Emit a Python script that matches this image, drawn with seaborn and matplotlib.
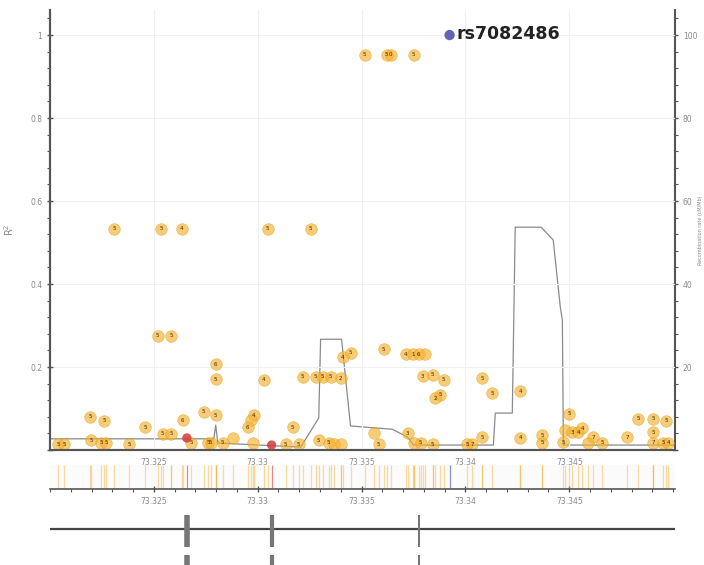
import matplotlib
matplotlib.use("Agg")
import matplotlib.pyplot as plt
import seaborn as sns
import pandas as pd
from matplotlib.ticker import MultipleLocator, FixedLocator, FuncFormatter

# SNP positions (Mb), LD r^2 with lead SNP, and the number printed in each circle
snp_pos = [73.33515, 73.33621, 73.3364, 73.33751,
           73.32308, 73.32534, 73.32635, 73.33048, 73.33255,
           73.32519, 73.32582,
           73.32192, 73.3226, 73.32457, 73.32543, 73.32582, 73.32639, 73.3274,
           73.32197, 73.32245, 73.32269, 73.3238, 73.32038, 73.32067, 73.32678, 73.3276,
           73.32798, 73.32798, 73.33029, 73.32798, 73.32981, 73.32967, 73.32952, 73.33168,
           73.32774, 73.32832, 73.3288, 73.32976, 73.33135, 73.33197, 73.33294, 73.33342,
           73.33366, 73.33399,
           73.33217, 73.33279, 73.33313, 73.33351, 73.33399, 73.33409, 73.33447,
           73.33606, 73.33712, 73.33746, 73.33775, 73.33808,
           73.33794, 73.33842, 73.33895, 73.3388, 73.33856, 73.34082, 73.3413, 73.34265,
           73.33558, 73.33722, 73.33582, 73.33751, 73.33784, 73.33842, 73.3401, 73.34034,
           73.34082, 73.34265,
           73.345, 73.34371, 73.34371, 73.34472, 73.34482, 73.34515, 73.34544, 73.34563,
           73.34616, 73.34592, 73.34659, 73.3478, 73.34833, 73.34905, 73.34967, 73.34905,
           73.34905, 73.34953, 73.34976]
snp_r2 = [0.952, 0.952, 0.952, 0.952,
          0.533, 0.533, 0.533, 0.533, 0.533,
          0.275, 0.275,
          0.080, 0.070, 0.055, 0.039, 0.039, 0.072, 0.092,
          0.024, 0.017, 0.017, 0.014, 0.014, 0.014, 0.017, 0.017,
          0.207, 0.171, 0.169, 0.084, 0.084, 0.072, 0.055, 0.055,
          0.017, 0.017, 0.029, 0.017, 0.014, 0.014, 0.024, 0.017,
          0.014, 0.014,
          0.176, 0.176, 0.176, 0.176, 0.173, 0.224, 0.234,
          0.243, 0.231, 0.231, 0.231, 0.231,
          0.178, 0.181, 0.169, 0.133, 0.125, 0.173, 0.137, 0.142,
          0.041, 0.041, 0.014, 0.017, 0.017, 0.014, 0.014, 0.014,
          0.031, 0.029,
          0.087, 0.036, 0.017, 0.019, 0.048, 0.043, 0.043, 0.053,
          0.031, 0.017, 0.017, 0.031, 0.075, 0.075, 0.070, 0.043,
          0.017, 0.017, 0.017]
snp_text = ["5", "5", "0", "5",
            "5", "5", "4", "5", "5",
            "5", "5",
            "5", "5", "5", "5", "5", "6", "5",
            "5", "5", "5", "5", "5", "5", "5", "5",
            "6", "5", "4", "5", "4", "", "6", "5",
            "5", "5", "", "", "5", "5", "5", "5",
            "", "",
            "5", "5", "5", "5", "2", "4", "5",
            "5", "4", "1", "6", "",
            "3", "5", "5", "5", "2", "5", "5", "4",
            "", "3", "5", "", "5", "5", "5", "7",
            "5", "4",
            "5", "5", "5", "5", "", "3", "4", "4",
            "7", "", "5", "7", "5", "5", "5", "5",
            "7", "5", "4"]

# highlighted SNPs
red_pos = [73.32659, 73.33067]
red_r2 = [0.029, 0.012]
lead_pos = 73.33924
lead_r2 = 1.0
lead_name = "rs7082486"

# recombination rate (cM/Mb)
rec_pos = [73.3200, 73.32789, 73.32798, 73.32808, 73.33207, 73.33294, 73.33303,
           73.33404, 73.33447, 73.33649, 73.33722, 73.33751, 73.34135, 73.34144,
           73.34226, 73.3424, 73.34365, 73.34423, 73.34457, 73.34467, 73.34472, 73.3501]
rec_rate = [2.7, 2.7, 6.0, 1.7, 0.7, 7.7, 26.7,
            26.7, 5.8, 5.0, 3.1, 1.2, 1.2, 8.9,
            8.9, 53.7, 53.7, 50.6, 34.5, 31.3, 1.2, 1.2]

# gene track exons
exon_pos = [73.32659, 73.33067, 73.33779]
exon_width = [4, 3, 1.5]

x_ticks = [73.325, 73.33, 73.335, 73.34, 73.345]

snps = pd.DataFrame({"pos": snp_pos, "r2": snp_r2, "txt": snp_text})
rec = pd.DataFrame({"pos": rec_pos, "rate": rec_rate})

sns.set_style("white")
fig = plt.figure(figsize=(7.04, 5.65), dpi=100)

xlim = (73.3200, 73.3501)
orange = "#f5b02e"
grey_txt = "#8a8a8a"
axis_col = "#555555"
xfmt = FuncFormatter(lambda v, _: f"{v:.3f}".rstrip("0"))

# main panel
ax = fig.add_axes([0.071, 0.2035, 0.888, 0.7785])
ax.grid(True, color="#f0f0f0", linewidth=0.8)
ax.set_axisbelow(True)
ax2 = ax.twinx()
sns.lineplot(data=rec, x="pos", y="rate", ax=ax2, color="#8a8a8a", linewidth=0.9,
             sort=False, estimator=None)
ax2.set_ylim(0, 106)
ax2.set_ylabel("Recombination rate (cM/Mb)", fontsize=3.5, color=grey_txt)
ax2.yaxis.set_label_coords(1.036, 0.5)

ax.set_zorder(ax2.get_zorder() + 1)
ax.patch.set_visible(False)
sns.scatterplot(data=snps, x="pos", y="r2", ax=ax, s=70, color=orange, alpha=0.65,
                edgecolor="#e59a10", linewidth=0.4, legend=False)
for p, r, t in zip(snp_pos, snp_r2, snp_text):
    if t:
        ax.text(p, r, t, fontsize=4, ha="center", va="center", color="#3a2a00")
ax.scatter(red_pos, red_r2, s=45, color="#d43a3a", alpha=0.85, edgecolor="none", zorder=3)
ax.scatter([lead_pos], [lead_r2], s=55, color="#6464b4", edgecolor="none", zorder=3)
ax.annotate(lead_name, (lead_pos, lead_r2), xytext=(5, 1), textcoords="offset points",
            fontsize=12.5, fontweight="bold", color="#222222", va="center")

ax.set_xlim(*xlim)
ax.set_ylim(0, 1.06)
ax.set_xlabel("")
ax.set_ylabel("R$^2$", fontsize=7, color=grey_txt, labelpad=10)
ax.xaxis.set_major_locator(FixedLocator(x_ticks))
ax.xaxis.set_minor_locator(MultipleLocator(0.001))
ax.yaxis.set_major_locator(MultipleLocator(0.2))
ax.yaxis.set_minor_locator(MultipleLocator(0.04))
ax2.yaxis.set_major_locator(MultipleLocator(20))
ax2.yaxis.set_minor_locator(MultipleLocator(4))
ax.xaxis.set_major_formatter(xfmt)
ax.yaxis.set_major_formatter(FuncFormatter(lambda v, _: "" if v == 0 else f"{v:g}"))
ax2.yaxis.set_major_formatter(FuncFormatter(lambda v, _: "" if v == 0 else f"{v:g}"))
for a in (ax, ax2):
    a.tick_params(which="major", direction="inout", length=5, width=1, color=axis_col,
                  labelsize=5.5, labelcolor=grey_txt, pad=3)
    a.tick_params(which="minor", direction="out", length=2.5, width=0.8, color=axis_col)
    for s in ("left", "right", "bottom"):
        a.spines[s].set_color(axis_col)
        a.spines[s].set_linewidth(1.5)
    a.spines["top"].set_visible(False)
ax.tick_params(axis="y", left=True, right=False)
ax2.tick_params(axis="y", right=True, left=False)
ax.spines["right"].set_visible(False)

# SNP position strip
axs = fig.add_axes([0.071, 0.1345, 0.888, 0.042])
axs.vlines(snp_pos, 0.05, 1, color=orange, alpha=0.45, linewidth=0.9)
axs.vlines(red_pos, 0.05, 1, color="#d43a3a", alpha=0.6, linewidth=0.9)
axs.vlines([lead_pos], 0.05, 1, color="#6464b4", alpha=0.7, linewidth=0.9)
axs.set_xlim(*xlim)
axs.set_ylim(0, 1)
axs.set_yticks([])
axs.xaxis.set_major_locator(FixedLocator(x_ticks))
axs.xaxis.set_minor_locator(MultipleLocator(0.001))
axs.xaxis.set_major_formatter(xfmt)
axs.tick_params(which="major", direction="inout", length=5, width=1, color=axis_col,
                labelsize=5.5, labelcolor=grey_txt, pad=3, bottom=True)
axs.tick_params(which="minor", direction="out", length=2.5, width=0.8, color=axis_col,
                bottom=True)
for s in ("left", "right", "top"):
    axs.spines[s].set_visible(False)
axs.spines["bottom"].set_color(axis_col)
axs.spines["bottom"].set_linewidth(1.2)
axs.patch.set_facecolor("#fbfbfb")

# gene track
axg = fig.add_axes([0.071, 0.0, 0.888, 0.106])
axg.set_xlim(*xlim)
axg.set_ylim(0, 60)
axg.hlines(36, xlim[0], xlim[1], color="#444444", linewidth=1.6)
for p, w in zip(exon_pos, exon_width):
    axg.vlines(p, 18, 50, color="#777777", linewidth=w)
    axg.vlines(p, 0, 10, color="#777777", linewidth=w)
axg.set_xticks([])
axg.set_yticks([])
for s in axg.spines.values():
    s.set_visible(False)

fig.savefig("out.png", dpi=100)
